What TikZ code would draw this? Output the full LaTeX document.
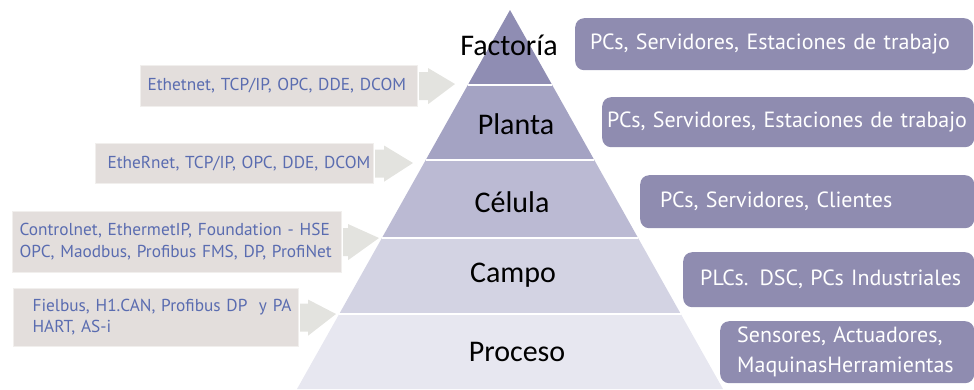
\documentclass[tikz,border=0pt]{standalone}
\usepackage{fontspec}
\setmainfont{PT Sans}
\newfontfamily\labfont{Carlito}
\usetikzlibrary{calc}
\definecolor{lay1}{HTML}{8F8DB3}
\definecolor{lay2}{HTML}{A4A3C3}
\definecolor{lay3}{HTML}{BBBAD3}
\definecolor{lay4}{HTML}{D3D3E3}
\definecolor{lay5}{HTML}{E7E7F0}
\definecolor{rboxc}{HTML}{8F8CB0}
\definecolor{lboxc}{HTML}{E3DEDC}
\definecolor{lboxb}{HTML}{F1EFED}
\definecolor{ltext}{HTML}{5A6CB0}
\definecolor{arrc}{HTML}{E3E3DF}
\begin{document}
\begin{tikzpicture}[x=1pt,y=-1pt,
  lvl/.style={font=\labfont\fontsize{30}{34}\selectfont, text=black, inner sep=0pt},
  rbox/.style={fill=rboxc, rounded corners=9pt, text=white, align=left, anchor=north west,
     font=\fontsize{22}{26}\selectfont, inner ysep=0pt},
  lbox/.style={fill=lboxc, draw=lboxb, line width=1.2pt, text=ltext, align=left, anchor=north west,
     font=\fontsize{17.3}{21}\selectfont, inner ysep=0pt},
  arr/.style={fill=arrc}]
\useasboundingbox (0,0) rectangle (974,389);
% pyramid layers
\coordinate (apex) at (510,10);
\coordinate (l1) at (467.8,85);  \coordinate (r1) at (552.2,85);
\coordinate (l2) at (425.7,160); \coordinate (r2) at (594.3,160);
\coordinate (l3) at (381.9,238); \coordinate (r3) at (638.1,238);
\coordinate (l4) at (339.2,314); \coordinate (r4) at (680.8,314);
\coordinate (l5) at (297,389);   \coordinate (r5) at (723,389);
\fill[lay1] (apex) -- (r1) -- (l1) -- cycle;
\fill[lay2] (l1) -- (r1) -- (r2) -- (l2) -- cycle;
\fill[lay3] (l2) -- (r2) -- (r3) -- (l3) -- cycle;
\fill[lay4] (l3) -- (r3) -- (r4) -- (l4) -- cycle;
\fill[lay5] (l4) -- (r4) -- (r5) -- (l5) -- cycle;
\foreach \i in {1,...,4} \draw[white, line width=1.8pt] (l\i) -- (r\i);
% level labels
\node[lvl] (factoria) at (509,45) {Factoría};
\node[lvl] (planta) at (516,124) {Planta};
\node[lvl] (celula) at (512,202) {Célula};
\node[lvl] (campo) at (513,275) {Campo};
\node[lvl] (proceso) at (517,352) {Proceso};
% right boxes
\node[rbox, minimum height=52pt, text width=368pt, inner xsep=15pt] (d1) at (575,18)
  {\mbox{PCs, Servidores, Estaciones de trabajo}};
\node[rbox, minimum height=50pt, text width=362pt, inner xsep=5pt] (d2) at (602,97)
  {\mbox{PCs, Servidores, Estaciones de trabajo}};
\node[rbox, minimum height=53pt, text width=294pt, inner xsep=20pt] (d3) at (640,175)
  {\mbox{PCs, Servidores, Clientes}};
\node[rbox, minimum height=55pt, text width=257pt, inner xsep=17pt] (d4) at (683,252)
  {\mbox{PLCs. DSC, PCs Industriales}};
\node[rbox, minimum height=62pt, text width=220pt, inner xsep=17pt, font=\fontsize{22}{30}\selectfont] (d5) at (720,321)
  {Sensores, Actuadores,\\\mbox{MaquinasHerramientas}};
% left boxes
\node[lbox, minimum height=41pt, text width=263pt, inner xsep=7pt] (p1) at (140,65)
  {\mbox{Ethetnet, TCP/IP, OPC, DDE, DCOM}};
\node[lbox, minimum height=40pt, text width=254pt, inner xsep=12pt] (p2) at (95,143)
  {\mbox{EtheRnet, TCP/IP, OPC, DDE, DCOM}};
\node[lbox, minimum height=61pt, text width=315pt, inner xsep=7pt, font=\fontsize{17.3}{22}\selectfont] (p3) at (12,211)
  {\mbox{Controlnet, EthermetIP, Foundation - HSE}\\\mbox{OPC, Maodbus, Profibus FMS, DP, ProfiNet}};
\node[lbox, minimum height=58pt, text width=247pt, inner xsep=19pt, font=\fontsize{17.3}{21}\selectfont] (p4) at (13,288)
  {\mbox{Fielbus, H1.CAN, Profibus DP\ \ y PA}\\HART, AS-i};
% arrows
\coordinate (t1) at (455,84);
\coordinate (t2) at (413,163);
\coordinate (t3) at (379,238);
\coordinate (t4) at (336,314);
\newcommand\blockarrow[3]{%
  \fill[arr] ($(#1.east)+(1,-14)$) -- ($(#1.east)+(#3,-14)$) -- ($(#1.east)+(#3,-18)$) -- (#2)
    -- ($(#1.east)+(#3,18)$) -- ($(#1.east)+(#3,14)$) -- ($(#1.east)+(1,14)$) -- cycle;}
\blockarrow{p1}{t1}{10}
\blockarrow{p2}{t2}{10}
\blockarrow{p3}{t3}{6}
\blockarrow{p4}{t4}{9}
\end{tikzpicture}
\end{document}
